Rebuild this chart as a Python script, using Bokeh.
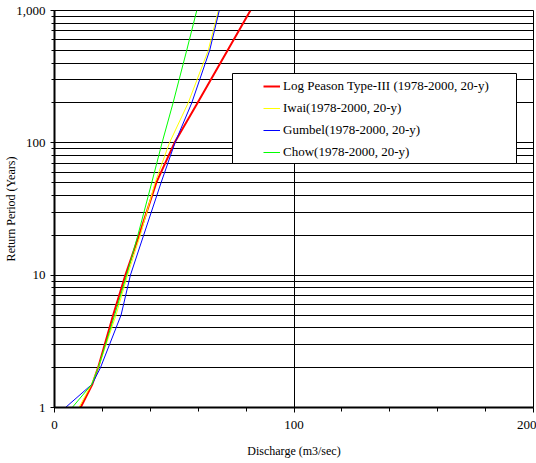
from bokeh.plotting import figure
from bokeh.models import (Range1d, FixedTicker, NumeralTickFormatter, Legend,
                          LegendItem, BoxAnnotation)
from bokeh.embed import file_html
from bokeh.resources import INLINE

# ---- data ----
return_period = [1, 1.5, 2, 5, 10, 20, 50, 100, 200, 500, 1000]
q_lp3 = [10.9, 15.8, 18.2, 24.5, 29.6, 35.3, 42.5, 50.1, 59.7, 72.3, 81.8]
q_iwai = [10.2, 15.5, 18.3, 25.7, 30.5, 35.8, 42.0, 48.0, 55.8, 64.2, 68.4]
q_gumbel = [4.6, 15.7, 19.2, 27.8, 31.7, 37.2, 44.5, 50.3, 57.3, 64.8, 68.8]
q_chow = [7.4, 15.6, 18.3, 25.1, 30.1, 34.8, 40.6, 44.9, 49.5, 55.2, 59.4]

series_labels = ["Log Peason Type-III (1978-2000, 20-y)", "Iwai(1978-2000, 20-y)",
                 "Gumbel(1978-2000, 20-y)", "Chow(1978-2000, 20-y)"]
series_colors = ["#FF0000", "#FFFF00", "#0000FF", "#00FF00"]
series_widths = [2, 1, 1, 1]

x_major = [0, 100, 200]
x_minor = [20, 40, 60, 80, 120, 140, 160, 180]
y_major = [1, 10, 100, 1000]
y_minor = [2, 3, 4, 5, 6, 7, 8, 9, 20, 30, 40, 50, 60, 70, 80, 90,
           200, 300, 400, 500, 600, 700, 800, 900]

FONT = "Liberation Serif"

p = figure(frame_width=479, frame_height=397,
           x_range=Range1d(0, 200), y_range=Range1d(1, 1000),
           y_axis_type="log", output_backend="svg", toolbar_location=None,
           min_border_left=54, min_border_right=3, min_border_top=10,
           min_border_bottom=54)
p.background_fill_color = "white"
p.border_fill_color = "white"
p.outline_line_color = "black"
p.outline_line_width = 1

xt = FixedTicker(ticks=x_major, minor_ticks=x_minor)
yt = FixedTicker(ticks=y_major, minor_ticks=y_minor)
p.xaxis.ticker = xt
p.yaxis.ticker = yt
p.xgrid.ticker = xt
p.ygrid.ticker = yt

p.xgrid.grid_line_color = "black"
p.xgrid.minor_grid_line_color = None
p.ygrid.grid_line_color = "black"
p.ygrid.minor_grid_line_color = "black"
p.xgrid.grid_line_width = 1
p.ygrid.grid_line_width = 1
p.ygrid.minor_grid_line_width = 1

p.yaxis.formatter = NumeralTickFormatter(format="0,0")

for ax in (p.xaxis, p.yaxis):
    ax.axis_line_color = "black"
    ax.axis_line_width = 2
    ax.major_tick_line_color = "black"
    ax.minor_tick_line_color = "black"
    ax.major_tick_in = 0
    ax.minor_tick_in = 0
    ax.major_label_text_font = FONT
    ax.major_label_text_font_size = "13px"
    ax.major_label_text_color = "black"
    ax.axis_label_text_font = FONT
    ax.axis_label_text_font_size = "12px"
    ax.axis_label_text_font_style = "normal"
    ax.axis_label_text_color = "black"

p.xaxis.major_tick_out = 5
p.xaxis.minor_tick_out = 4
p.yaxis.major_tick_out = 4
p.yaxis.minor_tick_out = 3
p.xaxis.major_label_text_align = "right"
p.xaxis.major_label_standoff = 8
p.xaxis.axis_label_standoff = 12
p.yaxis.major_label_standoff = 5
p.yaxis.axis_label_standoff = -5

p.xaxis.axis_label = "Discharge (m3/sec)"
p.yaxis.axis_label = "Return Period (Years)"

renderers = []
for q, c, w in zip([q_lp3, q_iwai, q_gumbel, q_chow], series_colors, series_widths):
    r = p.line(q, return_period, line_color=c, line_width=w)
    renderers.append(r)

box = BoxAnnotation(left=178, right=462, bottom=244, top=334,
                    left_units="screen", right_units="screen",
                    top_units="screen", bottom_units="screen",
                    fill_color="white", fill_alpha=1.0,
                    line_color="black", line_width=1, line_alpha=1.0)
p.add_layout(box)

legend = Legend(items=[LegendItem(label=l, renderers=[r])
                       for l, r in zip(series_labels, renderers)],
                location=(204, 242), padding=5, spacing=6, margin=0,
                glyph_width=17, glyph_height=16, label_height=16,
                label_standoff=3, border_line_alpha=0,
                background_fill_alpha=0,
                label_text_font=FONT, label_text_font_size="13px",
                label_text_color="black")
p.add_layout(legend, "center")

open("out.html", "w").write(file_html(p, INLINE))
